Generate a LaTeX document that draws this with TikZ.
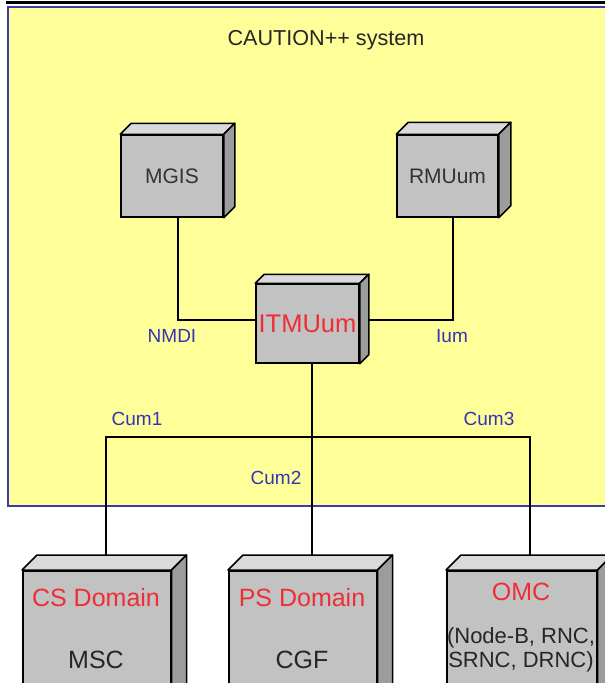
\documentclass[tikz,border=0pt]{standalone}
\usepackage{fontspec}
\setmainfont{Liberation Sans}
\usetikzlibrary{positioning}

\definecolor{sysyellow}{HTML}{FFFF99}
\definecolor{sysblue}{HTML}{3B3BA8}
\definecolor{lblblue}{HTML}{3434B4}
\definecolor{domred}{HTML}{EE2E36}
\definecolor{frontgray}{HTML}{C2C2C2}
\definecolor{topgray}{HTML}{DADADA}
\definecolor{sidegray}{HTML}{9C9C9C}

\tikzset{
  unit/.style={draw, line width=1.5pt, fill=frontgray, inner sep=0pt},
  topface/.style={draw, line width=1.5pt, fill=topgray, line join=round},
  sideface/.style={draw, line width=1.5pt, fill=sidegray, line join=round},
  wire/.style={line width=2pt},
  iface/.style={text=lblblue, font=\fontsize{19}{21}\selectfont},
  domname/.style={text=domred, font=\fontsize{25}{27}\selectfont},
  domsub/.style={text=black!85, font=\fontsize{25}{27}\selectfont, align=center}
}

\begin{document}
\begin{tikzpicture}[x=1pt, y=-1pt, line width=0.8pt]
  \path[use as bounding box, clip] (0,0) rectangle (605,683);
  \fill[white] (0,0) rectangle (605,683);
  % system frame
  \draw[line width=3pt] (6,2) -- (606,2);
  \draw[fill=sysyellow, draw=sysblue, line width=2pt] (8,7) rectangle (608,506);
  \node[text=black!85, font=\fontsize{21.6}{24}\selectfont] (title) at (326,40) {CAUTION++ system};

  % units inside the system
  \node[unit, minimum width=102, minimum height=82, text=black!80,
        font=\fontsize{21}{23}\selectfont] (mgis) at (172,176) {MGIS};
  \node[unit, minimum width=101, minimum height=82, text=black!80,
        font=\fontsize{21}{23}\selectfont] (rmu) at (447.5,176) {RMUum};
  \node[unit, minimum width=103, minimum height=79, text=domred,
        font=\fontsize{25.5}{27}\selectfont] (itmu) at (307.5,323.5) {ITMUum};

  % external domains (cut by the lower edge)
  \node[unit, minimum width=148, minimum height=130, anchor=north west] (cs) at (22,570) {};
  \node[unit, minimum width=148, minimum height=130, anchor=north west] (ps) at (228,570) {};
  \node[unit, minimum width=150, minimum height=130, anchor=north west] (omc) at (446,570) {};
  \node[domname] (csname) at (96,598) {CS Domain};
  \node[domsub] (cssub) at (96,660) {MSC};
  \node[domname] (psname) at (302,598) {PS Domain};
  \node[domsub] (pssub) at (302,660) {CGF};
  \node[domname] (omcname) at (521,592) {OMC};
  \node[text=black!85, font=\fontsize{22}{24}\selectfont, align=center] (omcsub) at (521,650)
    {(Node-B, RNC,\\SRNC, DRNC)};

  % interfaces
  \coordinate (hub) at (312,437);
  \draw[wire] ([xshift=5.5]mgis.south) |- ([yshift=3.5]itmu.west);
  \draw[wire] ([xshift=5.5]rmu.south) |- ([yshift=3.5]itmu.east);
  \draw[wire] ([xshift=4.5]itmu.south) -- (hub);
  \draw[wire] (hub) -| ([xshift=9]cs.north);
  \draw[wire] (hub) -| ([xshift=8]omc.north);
  \draw[wire] (hub) -- (hub |- ps.north);
  \node[iface] (nmdi) at (172,336) {NMDI};
  \node[iface] (ium) at (452,336) {Ium};
  \node[iface] (cum1) at (137,419) {Cum1};
  \node[iface] (cum2) at (276,478) {Cum2};
  \node[iface] (cum3) at (489,419) {Cum3};

  % box depth (top and side faces)
  \foreach \n/\d in {mgis/11, rmu/12, itmu/9, cs/15, ps/15, omc/15} {
    \draw[topface] (\n.north west) -- ++(\d,-\d) -- ([shift={(\d,-\d)}]\n.north east)
      -- (\n.north east) -- cycle;
    \draw[sideface] (\n.north east) -- ++(\d,-\d) -- ([shift={(\d,-\d)}]\n.south east)
      -- (\n.south east) -- cycle;
  }
\end{tikzpicture}
\end{document}
